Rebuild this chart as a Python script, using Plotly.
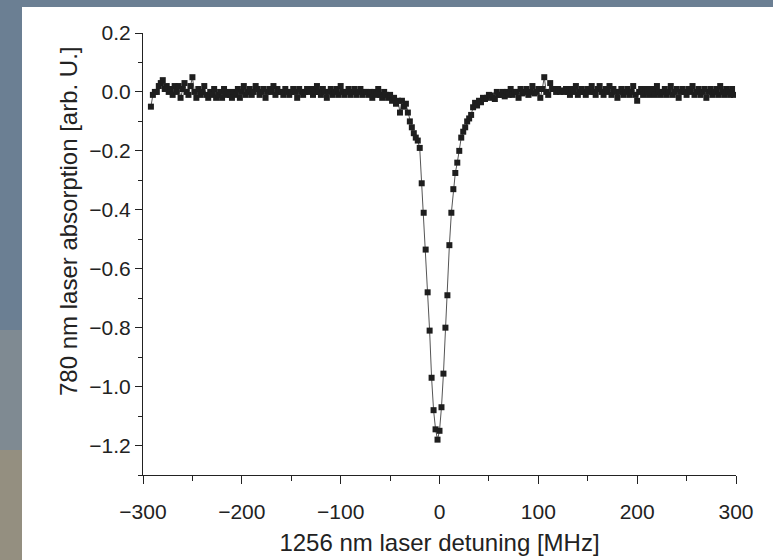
import plotly.graph_objects as go

# Detuning grid of the scan [MHz]
detuning = list(range(-292, 300, 2))

# 780 nm absorption signal [arb. U.]
absorption = (
    [-0.05, -0.01, 0.00, 0.00, 0.02, 0.03, 0.04, 0.01, 0.02, 0.00] +
    [0.01, -0.01, 0.02, 0.00, 0.02, -0.02, 0.01, 0.03, 0.00, -0.01] +
    [0.02, 0.05, 0.00, -0.02, 0.01, -0.01, 0.00, 0.02, -0.01, -0.02] +
    [0.00, -0.01, 0.01, -0.02, -0.01, 0.00, -0.02, 0.01, -0.01, 0.00] +
    [-0.01, -0.02, 0.00, -0.01, 0.01, -0.02, 0.00, 0.02, -0.01, 0.00] +
    [0.01, -0.01, 0.00, 0.02, 0.01, -0.01, 0.00, 0.01, -0.02, 0.00] +
    [0.01, 0.00, 0.02, -0.01, 0.01, 0.00, 0.00, -0.01, 0.01, 0.00] +
    [-0.01, 0.00, 0.01, 0.00, -0.02, 0.01, 0.00, -0.01, 0.00, 0.01] +
    [0.00, 0.01, -0.01, 0.00, 0.02, 0.00, -0.01, 0.01, 0.00, -0.02] +
    [0.00, 0.01, -0.01, 0.00, 0.01, -0.01, 0.02, 0.00, -0.01, 0.00] +
    [0.01, -0.01, 0.00, 0.01, -0.01, 0.00, 0.01, -0.01, 0.00, 0.00] +
    [-0.01, 0.00, -0.02, 0.00, -0.01, 0.01, -0.01, -0.02, 0.00, -0.01] +
    [-0.02, -0.01, -0.03, -0.02, -0.04, -0.03, -0.07, -0.03, -0.05, -0.04] +
    [-0.07, -0.10, -0.12, -0.14, -0.155, -0.165, -0.19, -0.31, -0.41, -0.535] +
    [-0.68, -0.81, -0.97, -1.08, -1.145, -1.18, -1.15, -1.07, -0.956, -0.80] +
    [-0.69, -0.52, -0.41, -0.33, -0.275, -0.24, -0.20, -0.155, -0.135, -0.12] +
    [-0.10, -0.09, -0.078, -0.052, -0.037, -0.046, -0.03, -0.035, -0.02, -0.024] +
    [-0.02, -0.01, -0.012, -0.02, -0.024, 0.00, -0.01, -0.01, 0.00, -0.015] +
    [0.00, -0.01, 0.01, -0.01, 0.00, 0.00, -0.02, 0.01, -0.005, 0.00] +
    [0.01, -0.01, 0.00, 0.02, -0.005, 0.00, 0.01, -0.02, 0.01, 0.05] +
    [0.00, -0.01, 0.03, 0.01, 0.01, 0.00, 0.01, 0.00, 0.005, 0.00] +
    [0.01, 0.00, -0.01, 0.01, 0.00, 0.02, -0.01, 0.00, 0.01, 0.00] +
    [-0.01, 0.01, 0.00, 0.02, 0.00, -0.01, 0.01, 0.02, 0.00, -0.01] +
    [0.01, 0.00, 0.02, -0.01, 0.01, 0.00, -0.02, 0.00, 0.01, -0.01] +
    [0.00, 0.01, -0.01, 0.00, 0.02, -0.01, -0.03, 0.00, 0.01, -0.01] +
    [0.01, 0.00, -0.01, 0.01, 0.00, -0.01, 0.02, 0.00, -0.01, 0.00] +
    [0.01, -0.01, 0.00, 0.02, -0.01, 0.00, 0.01, -0.02, 0.00, 0.01] +
    [0.00, -0.01, 0.01, 0.00, 0.02, -0.01, 0.00, 0.01, -0.01, 0.00] +
    [0.01, -0.02, 0.00, 0.01, -0.01, 0.00, 0.01, -0.01, 0.02, 0.00] +
    [-0.01, 0.01, 0.00, -0.01, 0.01, -0.01]
)

x_ticks = [-300, -200, -100, 0, 100, 200, 300]
y_ticks = [0.2, 0.0, -0.2, -0.4, -0.6, -0.8, -1.0, -1.2]
x_title = "1256 nm laser detuning [MHz]"
y_title = "780 nm laser absorption [arb. U.]"

FONT = "Liberation Sans, Arial, sans-serif"
INK = "#222222"
BG = "#6b7f93"

fig = go.Figure()
fig.add_trace(go.Scatter(
    x=detuning, y=absorption, mode="lines+markers",
    line=dict(color="#555555", width=1),
    marker=dict(symbol="square", size=6, color="#1e1e1e",
                line=dict(width=0)),
    showlegend=False,
))

# Plot area in px: left 143, right 736, top 33, bottom 475
W, H = 773, 560
L, R, T, B = 143, 37, 33, 85
pw, ph = W - L - R, H - T - B

def px(xp):
    return (xp - L) / pw

def py(yp):
    return (H - B - yp) / ph

shapes = [
    # bottom-left tint of the photographed slide
    dict(type="rect", xref="paper", yref="paper", layer="below",
         x0=px(0), x1=px(22), y0=py(330), y1=py(450),
         fillcolor="#7f8a92", line=dict(width=0)),
    dict(type="rect", xref="paper", yref="paper", layer="below",
         x0=px(0), x1=px(22), y0=py(450), y1=py(560),
         fillcolor="#948f80", line=dict(width=0)),
    # white slide
    dict(type="rect", xref="paper", yref="paper", layer="below",
         x0=px(22), x1=px(773), y0=py(7), y1=py(560),
         fillcolor="white", line=dict(width=0)),
]

fig.update_layout(
    width=W, height=H,
    margin=dict(l=L, r=R, t=T, b=B, autoexpand=False),
    paper_bgcolor=BG,
    plot_bgcolor="rgba(0,0,0,0)",
    font=dict(family=FONT, color=INK, size=21),
    shapes=shapes,
    annotations=[dict(
        text=y_title, textangle=-90, showarrow=False,
        xref="paper", yref="paper", x=px(68), y=py(221),
        xanchor="center", yanchor="middle",
        font=dict(size=24, color=INK),
    )],
)
fig.update_xaxes(
    range=[-300, 300], tickvals=x_ticks,
    ticktext=[("\u2212" + str(abs(v))) if v < 0 else str(v) for v in x_ticks],
    showgrid=False, zeroline=False, automargin=False,
    showline=True, linecolor=INK, linewidth=1,
    ticks="outside", ticklen=8, tickcolor=INK,
    minor=dict(dtick=50, ticks="outside", ticklen=5, tickcolor=INK),
    tickfont=dict(size=21), ticklabelstandoff=10,
    title=dict(text=x_title, font=dict(size=24), standoff=11),
)
fig.update_yaxes(
    range=[-1.3, 0.2], tickvals=y_ticks,
    ticktext=[("\u2212" + f"{abs(v):.1f}") if v < 0 else f"{v:.1f}" for v in y_ticks],
    showgrid=False, zeroline=False, automargin=False,
    showline=True, linecolor=INK, linewidth=1,
    ticks="outside", ticklen=7, tickcolor=INK,
    minor=dict(dtick=0.1, ticks="outside", ticklen=4, tickcolor=INK),
    tickfont=dict(size=21), ticklabelstandoff=0,
)

fig.write_html(
    "out.html",
    config={"displayModeBar": False},
    post_script=(
        "document.body.style.margin='0';"
        "document.body.style.padding='0';"
        "document.body.style.overflow='hidden';"
        "document.body.style.background='" + BG + "';"
    ),
)
